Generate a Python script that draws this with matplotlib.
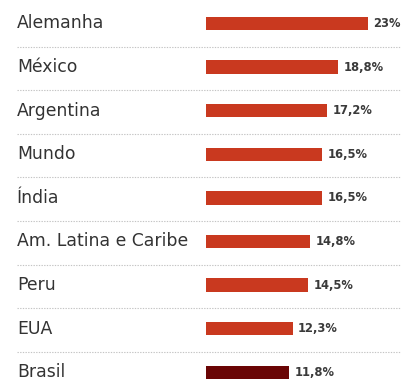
import matplotlib
matplotlib.use("Agg")
import matplotlib.pyplot as plt
import matplotlib.transforms as mtransforms

categories = ["Alemanha", "México", "Argentina", "Mundo", "Índia",
              "Am. Latina e Caribe", "Peru", "EUA", "Brasil"]
values = [23.0, 18.8, 17.2, 16.5, 16.5, 14.8, 14.5, 12.3, 11.8]
value_labels = ["23%", "18,8%", "17,2%", "16,5%", "16,5%", "14,8%", "14,5%", "12,3%", "11,8%"]
highlight = "Brasil"

W, H = 401, 382
fig = plt.figure(figsize=(W / 100, H / 100), dpi=100)
fig.patch.set_facecolor("white")

bar_x0 = 206
px_per_unit = 7.04
row0 = 23.5
row_step = 43.6

ax = fig.add_axes([bar_x0 / W, 0, 1 - bar_x0 / W, 1])
ax.set_xlim(0, (W - bar_x0) / px_per_unit)
ax.set_ylim((H - row0) / row_step, -row0 / row_step)
ax.axis("off")

red = "#C9391F"
dark = "#6A0505"
colors = [dark if c == highlight else red for c in categories]
ypos = list(range(len(categories)))
ax.barh(ypos, values, height=0.31, color=colors, zorder=2)

label_tr = mtransforms.blended_transform_factory(fig.transFigure, ax.transData)
for i, (c, v, lab) in enumerate(zip(categories, values, value_labels)):
    ax.text(17 / W, i, c, transform=label_tr, ha="left", va="center",
            fontsize=12.4, color="#333333", family="DejaVu Sans")
    ax.annotate(lab, (v, i), xytext=(4, 0), textcoords="offset points",
                ha="left", va="center", fontsize=8.3, fontweight="bold",
                color="#3a3a3a",
                family=["Liberation Sans Narrow", "DejaVu Sans"])

# dotted separators
for i in range(len(categories) - 1):
    y = i + 0.53
    line = plt.Line2D([17 / W, 1], [y, y], transform=label_tr,
                      color="#C4C4C4", lw=0.8, linestyle=(0, (1.2, 1.2)))
    fig.add_artist(line)

fig.savefig("out.png", dpi=100, facecolor="white")
